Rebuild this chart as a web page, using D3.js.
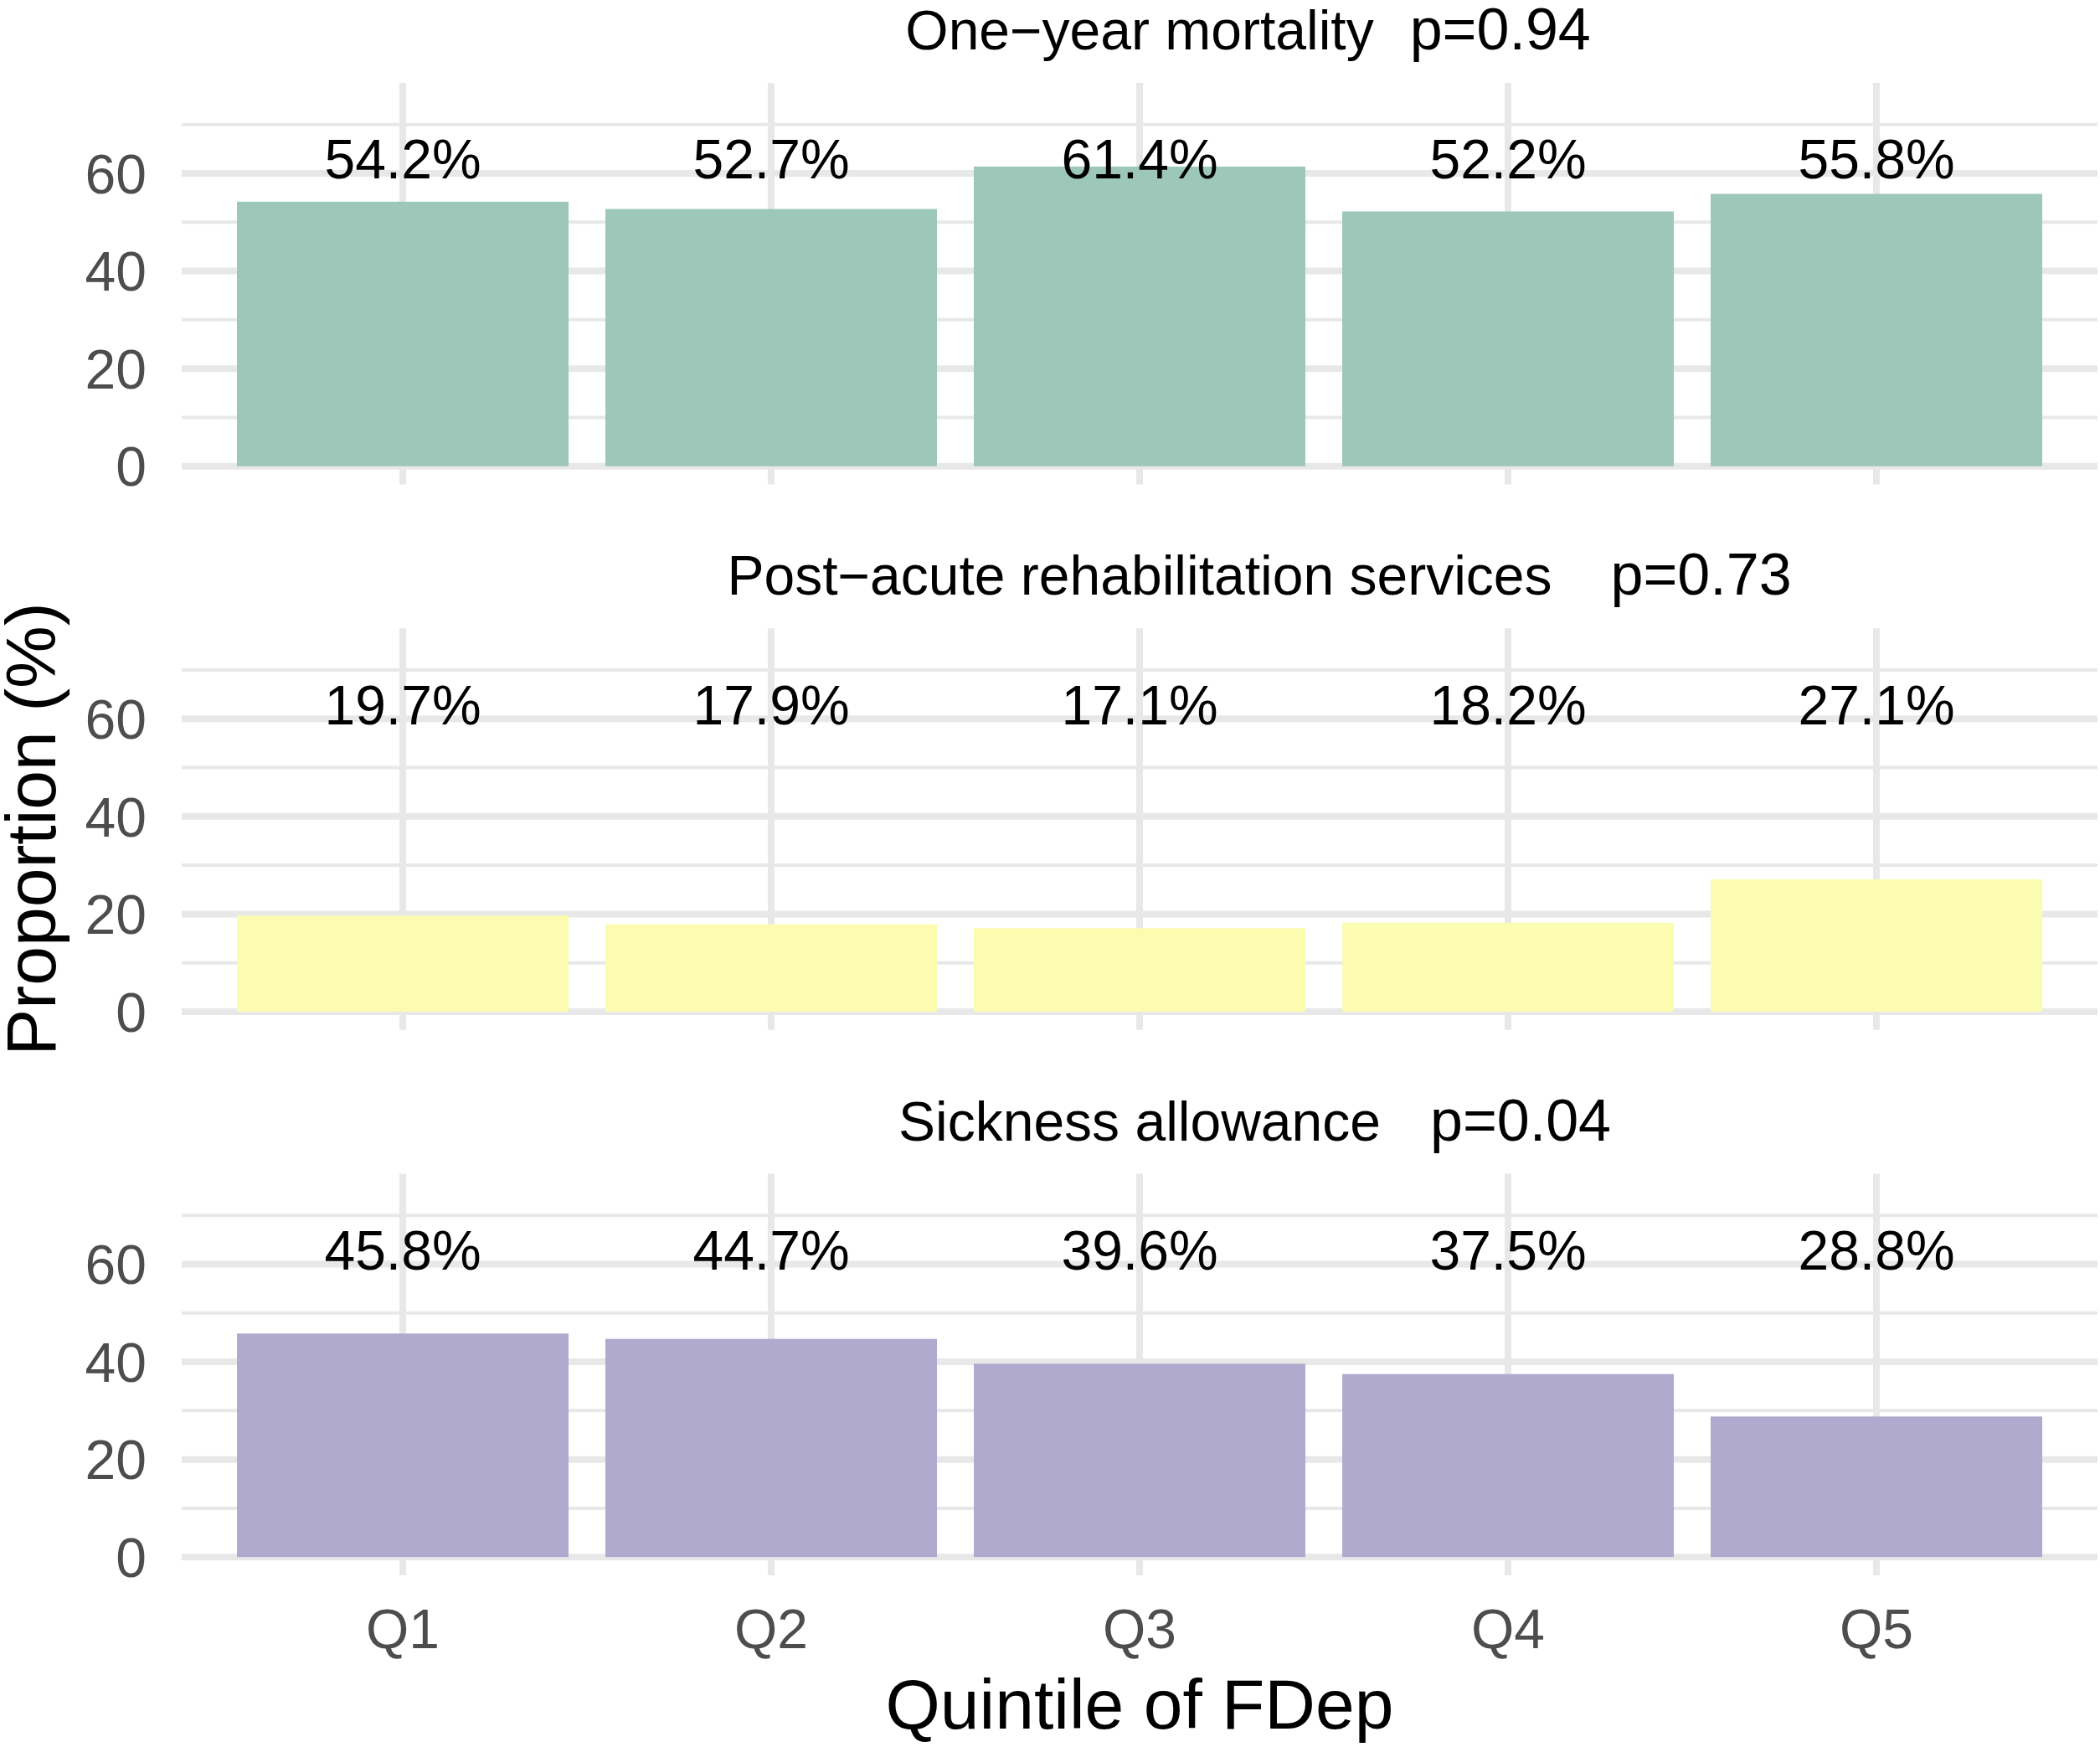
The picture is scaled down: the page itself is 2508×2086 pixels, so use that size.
<!DOCTYPE html>
<html>
<head>
<meta charset="utf-8">
<script src="https://cdn.jsdelivr.net/npm/d3@7"></script>
<style>
  body { margin: 0; background: #fff; }
  text { font-family: "Liberation Sans", Helvetica, Arial, sans-serif; }
</style>
</head>
<body>
<svg id="chart" width="2508" height="2086"></svg>
<script>
// quintiles on the x axis
const quintiles = ['Q1', 'Q2', 'Q3', 'Q4', 'Q5'];

// facet titles and their p-values
const outcomes = ['One\u2212year mortality', 'Post\u2212acute rehabilitation services', 'Sickness allowance'];
const pValues = ['p=0.94', 'p=0.73', 'p=0.04'];

// proportions (%) per quintile
const mortality = [54.2, 52.7, 61.4, 52.2, 55.8];
const rehab = [19.7, 17.9, 17.1, 18.2, 27.1];
const sickness = [45.8, 44.7, 39.6, 37.5, 28.8];

const yMajor = [0, 20, 40, 60];
const yMinor = [10, 30, 50, 70];

const series = [mortality, rehab, sickness];
const fills = ['#9cc7b9', '#fbfcb0', '#b0aace'];
const pGap = [43, 70, 59];

const panelLeft = 217, panelRight = 2505;
const panelTop = 99, panelH = 479.5, panelStep = 651.25;
const dataMax = 74.8, labelY = 63;
const gridCol = '#e8e8e8';

const svg = d3.select('#chart');

const x = d3.scaleBand()
  .domain(quintiles)
  .range([panelLeft, panelRight])
  .paddingInner(0.1)
  .paddingOuter(0.15);

series.forEach((vals, i) => {
  const top = panelTop + i * panelStep;
  const y = d3.scaleLinear()
    .domain([-0.05 * dataMax, 1.05 * dataMax])
    .range([top + panelH, top]);

  const g = svg.append('g').attr('class', 'panel');

  // minor grid
  g.selectAll('.minor').data(yMinor).join('line')
    .attr('x1', panelLeft).attr('x2', panelRight)
    .attr('y1', d => y(d)).attr('y2', d => y(d))
    .attr('stroke', gridCol).attr('stroke-width', 4);

  // major grid
  g.selectAll('.major').data(yMajor).join('line')
    .attr('x1', panelLeft).attr('x2', panelRight)
    .attr('y1', d => y(d)).attr('y2', d => y(d))
    .attr('stroke', gridCol).attr('stroke-width', 8);

  g.selectAll('.vgrid').data(quintiles).join('line')
    .attr('x1', d => x(d) + x.bandwidth() / 2).attr('x2', d => x(d) + x.bandwidth() / 2)
    .attr('y1', top).attr('y2', top + panelH)
    .attr('stroke', gridCol).attr('stroke-width', 8);

  // bars
  g.selectAll('rect').data(vals).join('rect')
    .attr('x', (d, j) => x(quintiles[j]))
    .attr('width', x.bandwidth())
    .attr('y', d => y(d))
    .attr('height', d => y(0) - y(d))
    .attr('fill', fills[i]);

  // value labels
  g.selectAll('.val').data(vals).join('text')
    .attr('x', (d, j) => x(quintiles[j]) + x.bandwidth() / 2)
    .attr('y', y(labelY))
    .attr('dy', '0.36em')
    .attr('text-anchor', 'middle')
    .attr('font-size', 66)
    .attr('fill', '#000')
    .text(d => d.toFixed(1) + '%');

  // y tick labels
  g.selectAll('.tick').data(yMajor).join('text')
    .attr('x', 175)
    .attr('y', d => y(d))
    .attr('dy', '0.36em')
    .attr('text-anchor', 'end')
    .attr('font-size', 66)
    .attr('fill', '#4d4d4d')
    .text(d => d);

  // facet title + p-value
  const cx = (panelLeft + panelRight) / 2;
  const title = g.append('text')
    .attr('x', cx)
    .attr('y', top - 40)
    .attr('text-anchor', 'middle')
    .attr('font-size', 66)
    .attr('fill', '#000')
    .text(outcomes[i]);
  const tw = title.node().getComputedTextLength();
  g.append('text')
    .attr('x', cx + tw / 2 + pGap[i])
    .attr('y', top - 40)
    .attr('font-size', 70)
    .attr('fill', '#000')
    .text(pValues[i]);
});

// x tick labels under the last panel
const lastBottom = panelTop + 2 * panelStep + panelH;
svg.append('g').selectAll('text').data(quintiles).join('text')
  .attr('x', d => x(d) + x.bandwidth() / 2)
  .attr('y', lastBottom + 87)
  .attr('text-anchor', 'middle')
  .attr('font-size', 66)
  .attr('fill', '#4d4d4d')
  .text(d => d);

// axis titles
svg.append('text')
  .attr('x', (panelLeft + panelRight) / 2)
  .attr('y', 2064)
  .attr('text-anchor', 'middle')
  .attr('font-size', 84)
  .attr('fill', '#000')
  .text('Quintile of FDep');

svg.append('text')
  .attr('transform', `translate(66, ${(panelTop + lastBottom) / 2}) rotate(-90)`)
  .attr('text-anchor', 'middle')
  .attr('font-size', 84)
  .attr('fill', '#000')
  .text('Proportion (%)');
</script>
</body>
</html>
